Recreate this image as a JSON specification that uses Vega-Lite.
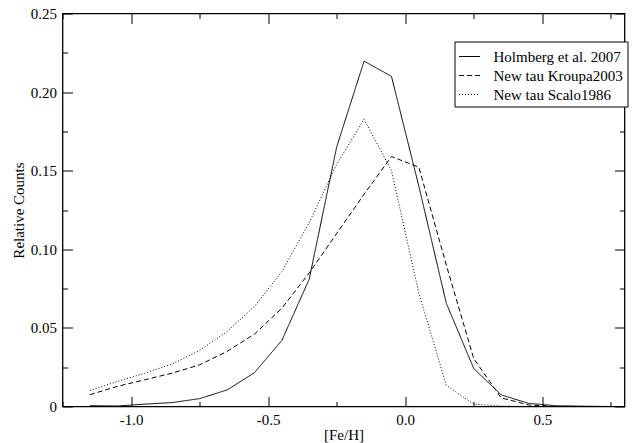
{
  "$schema": "https://vega.github.io/schema/vega-lite/v6.json",
  "width": 562,
  "height": 393,
  "autosize": {"type": "none"},
  "padding": {"left": 62.5, "top": 13.5, "right": 16, "bottom": 36},
  "background": "white",
  "config": {
    "font": "Liberation Serif",
    "view": {"stroke": "black", "strokeWidth": 1.3},
    "axis": {
      "grid": false,
      "domain": false,
      "tickColor": "black",
      "tickWidth": 1,
      "labelFont": "Liberation Serif",
      "labelFontSize": 15,
      "labelColor": "black",
      "titleFont": "Liberation Serif",
      "titleFontSize": 15,
      "titleFontWeight": "normal",
      "titleColor": "black"
    },
    "legend": {
      "labelFont": "Liberation Serif",
      "labelFontSize": 15,
      "labelColor": "black"
    }
  },
  "data": {
    "values": [
      {"feh": -1.15, "count": 0.0005, "series": "Holmberg et al. 2007"},
      {"feh": -1.05, "count": 0.0003, "series": "Holmberg et al. 2007"},
      {"feh": -0.95, "count": 0.0015, "series": "Holmberg et al. 2007"},
      {"feh": -0.85, "count": 0.0025, "series": "Holmberg et al. 2007"},
      {"feh": -0.75, "count": 0.005, "series": "Holmberg et al. 2007"},
      {"feh": -0.65, "count": 0.0105, "series": "Holmberg et al. 2007"},
      {"feh": -0.55, "count": 0.0215, "series": "Holmberg et al. 2007"},
      {"feh": -0.45, "count": 0.042, "series": "Holmberg et al. 2007"},
      {"feh": -0.35, "count": 0.081, "series": "Holmberg et al. 2007"},
      {"feh": -0.25, "count": 0.165, "series": "Holmberg et al. 2007"},
      {"feh": -0.15, "count": 0.2197, "series": "Holmberg et al. 2007"},
      {"feh": -0.05, "count": 0.21, "series": "Holmberg et al. 2007"},
      {"feh": 0.05, "count": 0.14, "series": "Holmberg et al. 2007"},
      {"feh": 0.15, "count": 0.0657, "series": "Holmberg et al. 2007"},
      {"feh": 0.25, "count": 0.0242, "series": "Holmberg et al. 2007"},
      {"feh": 0.35, "count": 0.0074, "series": "Holmberg et al. 2007"},
      {"feh": 0.45, "count": 0.002, "series": "Holmberg et al. 2007"},
      {"feh": 0.55, "count": 0.0005, "series": "Holmberg et al. 2007"},
      {"feh": 0.65, "count": 0.0002, "series": "Holmberg et al. 2007"},
      {"feh": 0.75, "count": 0.0, "series": "Holmberg et al. 2007"},
      {"feh": -1.15, "count": 0.0075, "series": "New tau Kroupa2003"},
      {"feh": -1.05, "count": 0.0128, "series": "New tau Kroupa2003"},
      {"feh": -0.95, "count": 0.017, "series": "New tau Kroupa2003"},
      {"feh": -0.85, "count": 0.0212, "series": "New tau Kroupa2003"},
      {"feh": -0.75, "count": 0.0265, "series": "New tau Kroupa2003"},
      {"feh": -0.65, "count": 0.035, "series": "New tau Kroupa2003"},
      {"feh": -0.55, "count": 0.046, "series": "New tau Kroupa2003"},
      {"feh": -0.45, "count": 0.0625, "series": "New tau Kroupa2003"},
      {"feh": -0.35, "count": 0.085, "series": "New tau Kroupa2003"},
      {"feh": -0.25, "count": 0.11, "series": "New tau Kroupa2003"},
      {"feh": -0.15, "count": 0.135, "series": "New tau Kroupa2003"},
      {"feh": -0.05, "count": 0.159, "series": "New tau Kroupa2003"},
      {"feh": 0.05, "count": 0.1522, "series": "New tau Kroupa2003"},
      {"feh": 0.15, "count": 0.09, "series": "New tau Kroupa2003"},
      {"feh": 0.25, "count": 0.0305, "series": "New tau Kroupa2003"},
      {"feh": 0.35, "count": 0.0055, "series": "New tau Kroupa2003"},
      {"feh": 0.45, "count": 0.001, "series": "New tau Kroupa2003"},
      {"feh": 0.55, "count": 0.0, "series": "New tau Kroupa2003"},
      {"feh": -1.15, "count": 0.0102, "series": "New tau Scalo1986"},
      {"feh": -1.05, "count": 0.0159, "series": "New tau Scalo1986"},
      {"feh": -0.95, "count": 0.0212, "series": "New tau Scalo1986"},
      {"feh": -0.85, "count": 0.027, "series": "New tau Scalo1986"},
      {"feh": -0.75, "count": 0.0356, "series": "New tau Scalo1986"},
      {"feh": -0.65, "count": 0.0477, "series": "New tau Scalo1986"},
      {"feh": -0.55, "count": 0.0636, "series": "New tau Scalo1986"},
      {"feh": -0.45, "count": 0.0858, "series": "New tau Scalo1986"},
      {"feh": -0.35, "count": 0.117, "series": "New tau Scalo1986"},
      {"feh": -0.25, "count": 0.154, "series": "New tau Scalo1986"},
      {"feh": -0.15, "count": 0.1827, "series": "New tau Scalo1986"},
      {"feh": -0.05, "count": 0.15, "series": "New tau Scalo1986"},
      {"feh": 0.05, "count": 0.072, "series": "New tau Scalo1986"},
      {"feh": 0.15, "count": 0.0135, "series": "New tau Scalo1986"},
      {"feh": 0.25, "count": 0.0015, "series": "New tau Scalo1986"},
      {"feh": 0.35, "count": 0.0003, "series": "New tau Scalo1986"},
      {"feh": 0.45, "count": 0.0, "series": "New tau Scalo1986"}
    ]
  },
  "resolve": {"axis": {"x": "independent", "y": "independent"}},
  "layer": [
    {
      "mark": {"type": "line", "stroke": "black", "strokeWidth": 1},
      "encoding": {
        "x": {
          "field": "feh",
          "type": "quantitative",
          "scale": {"domain": [-1.25, 0.8], "nice": false, "zero": false},
          "axis": {
            "orient": "bottom",
            "title": "[Fe/H]",
            "values": [-1.25, -1, -0.75, -0.5, -0.25, 0, 0.25, 0.5, 0.75],
            "tickSize": {"condition": {"test": "abs(datum.value*2 - round(datum.value*2)) < 0.001", "value": -10}, "value": -5},
            "labelExpr": "abs(datum.value*2 - round(datum.value*2)) < 0.001 ? replace(format(datum.value, '.1f'), '\u2212', '-') : ''",
            "labelPadding": 16,
            "labelFlush": false,
            "labelOverlap": false,
            "titleY": 33,
            "titleBaseline": "alphabetic"
          }
        },
        "y": {
          "field": "count",
          "type": "quantitative",
          "scale": {"domain": [0, 0.25], "nice": false},
          "axis": {
            "orient": "left",
            "title": "Relative Counts",
            "values": [0, 0.025, 0.05, 0.075, 0.1, 0.125, 0.15, 0.175, 0.2, 0.225, 0.25],
            "tickSize": {"condition": {"test": "abs(datum.value*20 - round(datum.value*20)) < 0.001", "value": -10}, "value": -5},
            "labelExpr": "abs(datum.value*20 - round(datum.value*20)) < 0.001 ? (datum.value == 0 ? '0' : format(datum.value, '.2f')) : ''",
            "labelPadding": 16,
            "labelFlush": false,
            "labelOverlap": false,
            "titleX": -44,
            "titleY": 196.5,
            "titleAngle": -90,
            "titleAlign": "center",
            "titleBaseline": "middle"
          }
        },
        "strokeDash": {
          "field": "series",
          "type": "nominal",
          "scale": {
            "domain": ["Holmberg et al. 2007", "New tau Kroupa2003", "New tau Scalo1986"],
            "range": [[1, 0], [5, 3], [1, 2]]
          },
          "legend": {
            "title": null,
            "orient": "none",
            "legendX": 392,
            "legendY": 28,
            "padding": 4,
            "strokeColor": "black",
            "fillColor": "white",
            "cornerRadius": 0,
            "symbolType": "stroke",
            "symbolSize": 441,
            "symbolStrokeWidth": 1,
            "symbolStrokeColor": "black",
            "labelOffset": 13,
            "rowPadding": 0
          }
        }
      }
    },
    {
      "mark": {"type": "point", "opacity": 0},
      "encoding": {
        "x": {
          "field": "feh",
          "type": "quantitative",
          "axis": {
            "orient": "top",
            "title": null,
            "values": [-1.25, -1, -0.75, -0.5, -0.25, 0, 0.25, 0.5, 0.75],
            "tickSize": {"condition": {"test": "abs(datum.value*2 - round(datum.value*2)) < 0.001", "value": -10}, "value": -5},
            "labels": false
          }
        },
        "y": {
          "field": "count",
          "type": "quantitative",
          "axis": {
            "orient": "right",
            "title": null,
            "values": [0, 0.025, 0.05, 0.075, 0.1, 0.125, 0.15, 0.175, 0.2, 0.225, 0.25],
            "tickSize": {"condition": {"test": "abs(datum.value*20 - round(datum.value*20)) < 0.001", "value": -10}, "value": -5},
            "labels": false
          }
        }
      }
    }
  ]
}
